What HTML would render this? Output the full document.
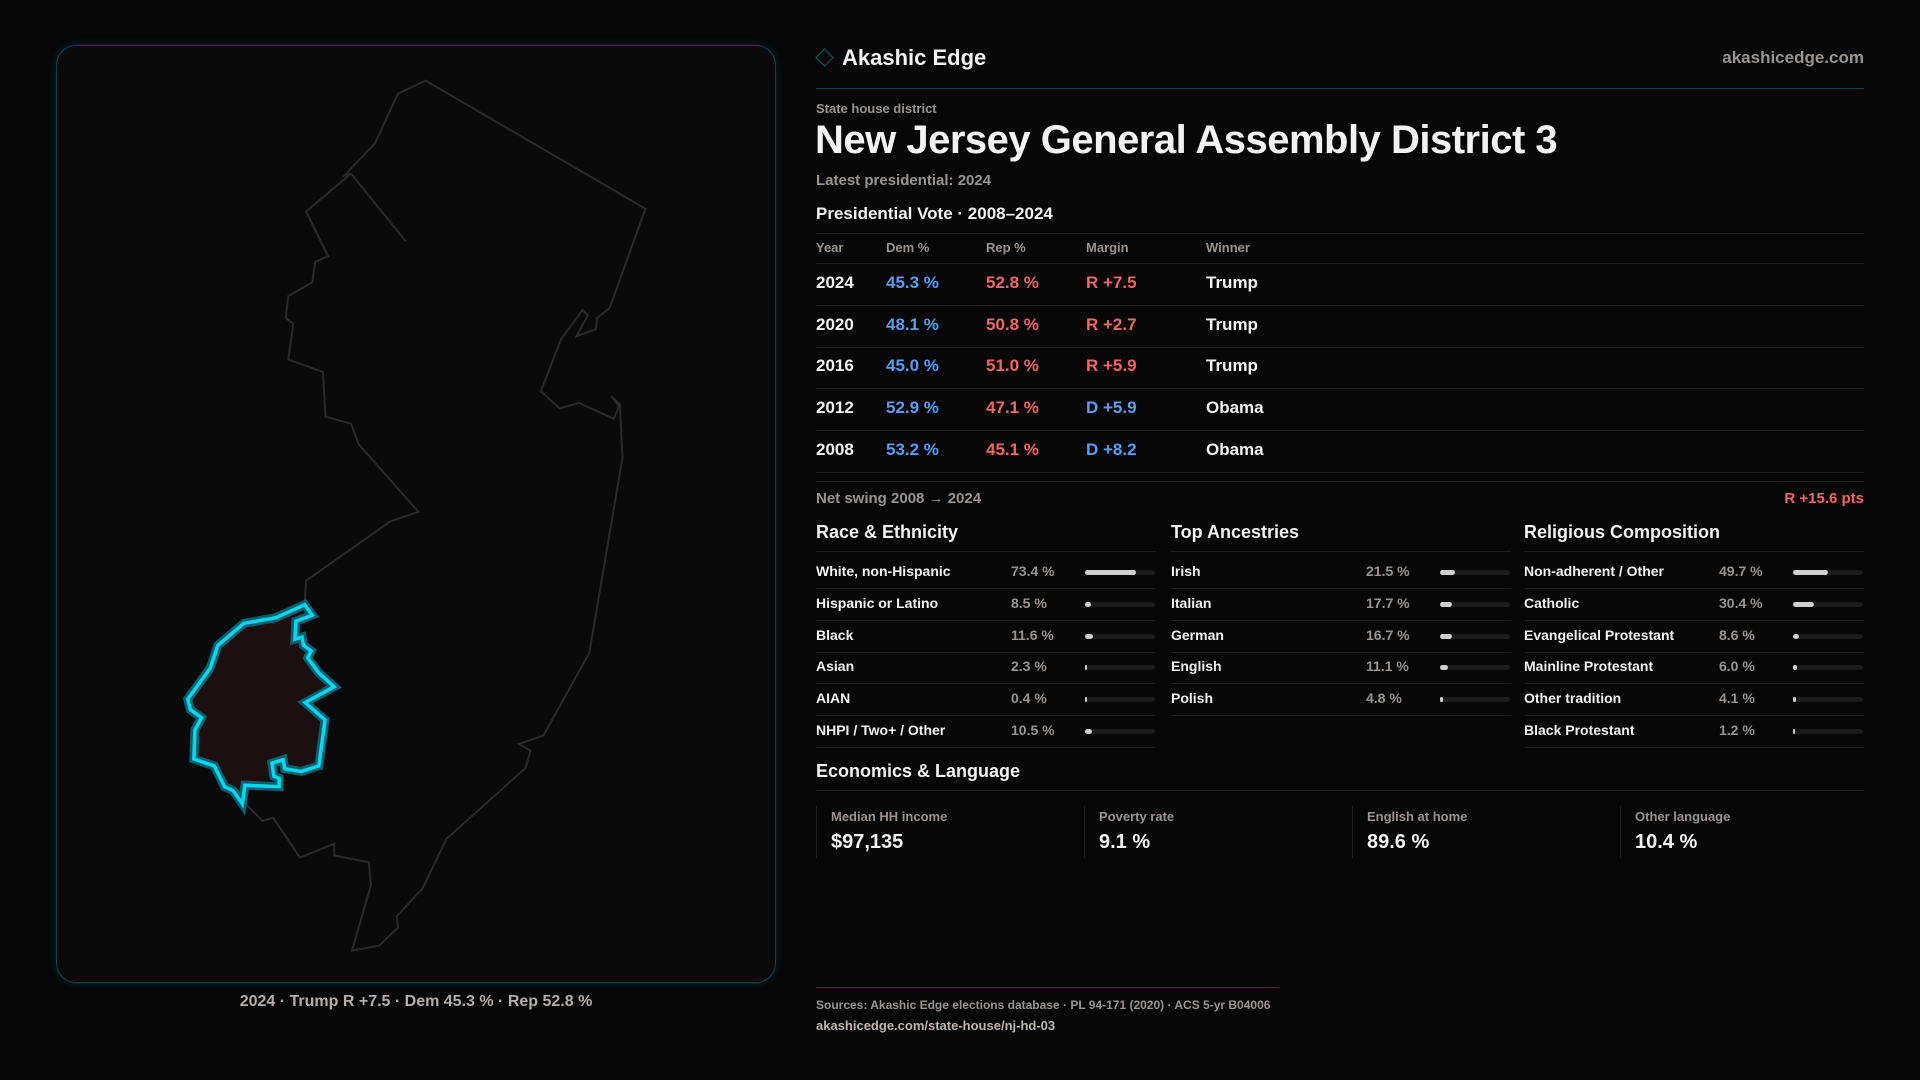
<!DOCTYPE html>
<html><head><meta charset="utf-8"><style>
*{margin:0;padding:0;box-sizing:border-box}
body{width:1920px;height:1080px;background:#070707;font-family:"Liberation Sans",sans-serif;color:#f2f2f2;position:relative;overflow:hidden}
.a{position:absolute;white-space:nowrap}
.mut{color:#9a9490}
.sec{font-weight:bold;font-size:18px}
.hl{position:absolute;height:1px;background:#1e1e1e}
.bar{position:absolute;height:5px;border-radius:3px;background:#1c1c1c}
.bar i{position:absolute;left:0;top:0;height:5px;border-radius:3px;background:#cfcfcf}
</style></head><body>
<div class="a" style="left:56px;top:45px;width:720px;height:938px;border:1px solid #0f4550;border-radius:20px;background:#0a0a0b;box-shadow:0 0 10px rgba(0,200,230,0.15)"></div>
<svg class="a" style="left:0;top:0" width="800" height="1080" viewBox="0 0 1568 1568" preserveAspectRatio="none">
<polygon fill="none" stroke="#2a2a2a" stroke-width="2" vector-effect="non-scaling-stroke" points="834,117 1265,303 1195,447 1170,462 1168,478 1130,488 1152,458 1142,450 1100,492 1060,568 1097,593 1135,585 1203,608 1213,590 1198,575 1215,587 1220,665 1155,948 1065,1068 1017,1080 1040,1090 1030,1115 875,1218 828,1290 778,1330 780,1347 743,1373 690,1380 727,1285 723,1252 655,1242 655,1225 588,1245 535,1187 515,1192 478,1165 457,1148 440,1142 420,1112 380,1102 382,1060 395,1042 373,1030 368,1015 412,970 427,937 478,905 540,897 597,878 600,843 765,757 820,743 703,645 688,615 638,605 633,540 565,522 575,470 560,462 565,430 612,410 618,380 643,372 600,307 688,252 675,255 735,208 780,136"/>
<polyline fill="none" stroke="#2a2a2a" stroke-width="2" vector-effect="non-scaling-stroke" points="688,252 795,350"/>
<polygon fill="#1c0f10" stroke="#0a5f6e" stroke-width="9" vector-effect="non-scaling-stroke" points="597,878 612,893 580,902 578,928 592,925 595,937 610,945 603,955 625,977 655,997 598,1020 637,1045 625,1112 590,1120 558,1116 555,1103 533,1108 537,1127 547,1130 547,1142 480,1140 475,1167 457,1148 440,1142 420,1112 380,1102 382,1060 395,1042 373,1030 368,1015 412,970 427,937 478,905 540,897"/>
<polygon fill="none" stroke="#00d8f2" stroke-width="3.5" vector-effect="non-scaling-stroke" points="597,878 612,893 580,902 578,928 592,925 595,937 610,945 603,955 625,977 655,997 598,1020 637,1045 625,1112 590,1120 558,1116 555,1103 533,1108 537,1127 547,1130 547,1142 480,1140 475,1167 457,1148 440,1142 420,1112 380,1102 382,1060 395,1042 373,1030 368,1015 412,970 427,937 478,905 540,897"/>
</svg>
<div class="a" style="left:56px;width:720px;top:993px;text-align:center;font-size:16px;font-weight:bold;color:#b5aea8">2024 · Trump R +7.5 · Dem 45.3 % · Rep 52.8 %</div>

<div class="a" style="left:818px;top:51px;width:13px;height:13px;border:1.5px solid #0e5a66;transform:rotate(45deg)"></div>
<div class="a" style="left:842px;top:45px;font-size:22px;font-weight:bold">Akashic Edge</div>
<div class="a mut" style="right:56px;top:48px;font-size:17px;font-weight:bold">akashicedge.com</div>
<div class="hl" style="left:816px;width:1048px;top:88px;background:#0e3f48"></div>
<div class="a mut" style="left:816px;top:101px;font-size:13px;font-weight:bold">State house district</div>
<div class="a" style="left:815px;top:118px;font-size:40px;font-weight:bold;letter-spacing:-0.5px">New Jersey General Assembly District 3</div>
<div class="a mut" style="left:816px;top:172px;font-size:15px;font-weight:bold">Latest presidential: 2024</div>
<div class="a sec" style="left:816px;top:204px;font-size:17px">Presidential Vote · 2008–2024</div>
<div class="hl" style="left:816px;width:1048px;top:233px"></div>
<div id="pres"></div>
<div class="hl" style="left:816px;width:1048px;top:481px;background:#262626"></div>
<div class="a mut" style="left:816px;top:490px;font-size:15px;font-weight:bold">Net swing 2008 → 2024</div>
<div class="a" style="right:56px;top:490px;font-size:15px;font-weight:bold;color:#f0686a">R +15.6 pts</div>
<div id="demo"></div>
<div class="a sec" style="left:816px;top:761px">Economics &amp; Language</div>
<div class="hl" style="left:816px;width:1048px;top:790px"></div>
<div id="econ"></div>
<div class="hl" style="left:816px;width:463px;top:987px;background:#0e3f48"></div>
<div class="a mut" style="left:816px;top:998px;font-size:12px;font-weight:bold">Sources: Akashic Edge elections database · PL 94-171 (2020) · ACS 5-yr B04006</div>
<div class="a" style="left:816px;top:1018px;font-size:13px;font-weight:bold;color:#bdb6b0">akashicedge.com/state-house/nj-hd-03</div>
<script>
const years=["2024","2020","2016","2012","2008"];
const demPct=[45.3,48.1,45.0,52.9,53.2];
const repPct=[52.8,50.8,51.0,47.1,45.1];
const margins=[7.5,2.7,5.9,-5.9,-8.2];
const winners=["Trump","Trump","Trump","Obama","Obama"];
const raceLabels=["White, non-Hispanic","Hispanic or Latino","Black","Asian","AIAN","NHPI / Two+ / Other"];
const raceVals=[73.4,8.5,11.6,2.3,0.4,10.5];
const ancLabels=["Irish","Italian","German","English","Polish"];
const ancVals=[21.5,17.7,16.7,11.1,4.8];
const relLabels=["Non-adherent / Other","Catholic","Evangelical Protestant","Mainline Protestant","Other tradition","Black Protestant"];
const relVals=[49.7,30.4,8.6,6.0,4.1,1.2];
const econLabels=["Median HH income","Poverty rate","English at home","Other language"];
const econVals=["$97,135","9.1 %","89.6 %","10.4 %"];

function mk(parent,cls,style,text){const d=document.createElement('div');d.className=cls;d.style.cssText=style;if(text!==undefined)d.textContent=text;parent.appendChild(d);return d;}
const pres=document.getElementById('pres');
const cols=[816,886,986,1086,1206];
["Year","Dem %","Rep %","Margin","Winner"].forEach((h,i)=>{const d=mk(pres,'a mut','left:'+cols[i]+'px;top:240px;font-size:13px;font-weight:bold',h);

});
mk(pres,'hl','left:816px;width:1048px;top:263px');
years.forEach((y,i)=>{const top=273+i*41.7;
const m=margins[i];const mt=(m>0?'R +':'D +')+Math.abs(m).toFixed(1);
const vals=[[y,'#f2f2f2'],[demPct[i].toFixed(1)+' %','#5b9df5'],[repPct[i].toFixed(1)+' %','#f0686a'],[mt,m>0?'#f0686a':'#5b9df5'],[winners[i],'#f2f2f2']];
vals.forEach((v,j)=>{const d=mk(pres,'a','left:'+cols[j]+'px;top:'+top+'px;font-size:17px;font-weight:bold;color:'+v[1],v[0]);

});
const l=mk(pres,'hl','left:816px;width:1048px;top:'+(305+i*41.7)+'px');

});

const demo=document.getElementById('demo');
const groups=[["Race & Ethnicity",raceLabels,raceVals,816],["Top Ancestries",ancLabels,ancVals,1171],["Religious Composition",relLabels,relVals,1524]];
groups.forEach(g=>{const x=g[3];
const t=mk(demo,'a sec','left:'+x+'px;top:522px',g[0]);


mk(demo,'hl','left:'+x+'px;width:340px;top:551px');
g[1].forEach((lab,i)=>{const top=563+i*31.8;
const a=mk(demo,'a','left:'+x+'px;top:'+top+'px;font-size:14px;font-weight:bold',lab);


const v=mk(demo,'a mut','left:'+(x+195)+'px;top:'+top+'px;font-size:14px;font-weight:bold',g[2][i].toFixed(1)+' %');


const b=mk(demo,'bar','left:'+(x+269)+'px;width:70px;top:'+(top+7)+'px');


const f=document.createElement('i');f.style.width=Math.max(1.5,70*g[2][i]/100)+'px';b.appendChild(f);


mk(demo,'hl','left:'+x+'px;width:340px;top:'+(top+25)+'px');});});

const econ=document.getElementById('econ');
econLabels.forEach((lab,i)=>{const x=816+i*268;
const c=mk(econ,'a','left:'+x+'px;top:806px;width:1px;height:52px;background:#1e1e1e');


const l=mk(econ,'a mut','left:'+(x+15)+'px;top:809px;font-size:13px;font-weight:bold',lab);


const v=mk(econ,'a','left:'+(x+15)+'px;top:831px;font-size:20px;font-weight:bold',econVals[i]);

});
</script>
</body></html>
